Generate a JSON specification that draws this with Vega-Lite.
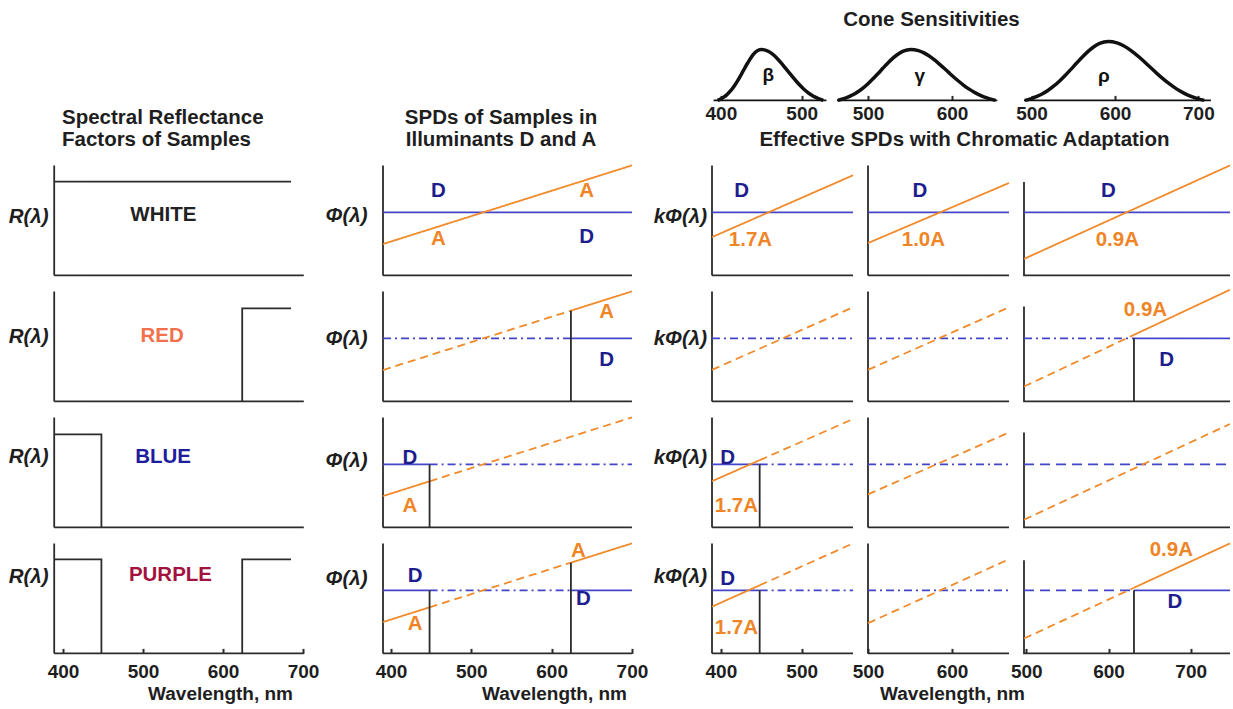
{
"$schema": "https://vega.github.io/schema/vega-lite/v6.json",
"background": "white",
"padding": {"left": 8, "top": 9.4, "right": 3, "bottom": 4},
"columns": 5,
"spacing": {"row": 16, "column": 15},
"align": "each",
"bounds": "flush",
"center": false,
"datasets": {
"L": [
{"p":"a1","g":"ax","s":"k","x":389,"y":1},{"p":"a1","g":"ax","s":"k","x":389,"y":0},{"p":"a1","g":"ax","s":"k","x":701,"y":0},
{"p":"a1","g":"r","s":"k","x":389,"y":0.852},{"p":"a1","g":"r","s":"k","x":685,"y":0.852},
{"p":"a2","g":"ax","s":"k","x":389,"y":1},{"p":"a2","g":"ax","s":"k","x":389,"y":0},{"p":"a2","g":"ax","s":"k","x":701,"y":0},
{"p":"a2","g":"r","s":"k","x":624,"y":0},{"p":"a2","g":"r","s":"k","x":624,"y":0.845},{"p":"a2","g":"r","s":"k","x":685,"y":0.845},
{"p":"a3","g":"ax","s":"k","x":389,"y":1},{"p":"a3","g":"ax","s":"k","x":389,"y":0},{"p":"a3","g":"ax","s":"k","x":701,"y":0},
{"p":"a3","g":"r","s":"k","x":389,"y":0.845},{"p":"a3","g":"r","s":"k","x":448,"y":0.845},{"p":"a3","g":"r","s":"k","x":448,"y":0},
{"p":"a4","g":"ax","s":"k","x":389,"y":1},{"p":"a4","g":"ax","s":"k","x":389,"y":0},{"p":"a4","g":"ax","s":"k","x":701,"y":0},
{"p":"a4","g":"r","s":"k","x":389,"y":0.855},{"p":"a4","g":"r","s":"k","x":448,"y":0.855},{"p":"a4","g":"r","s":"k","x":448,"y":0},
{"p":"a4","g":"r2","s":"k","x":624,"y":0},{"p":"a4","g":"r2","s":"k","x":624,"y":0.855},{"p":"a4","g":"r2","s":"k","x":685,"y":0.855},

{"p":"b1","g":"ax","s":"k","x":390,"y":1},{"p":"b1","g":"ax","s":"k","x":390,"y":0},{"p":"b1","g":"ax","s":"k","x":700,"y":0},
{"p":"b1","g":"D1","s":"D","x":390,"y":0.573},{"p":"b1","g":"D1","s":"D","x":700,"y":0.573},
{"p":"b1","g":"A1","s":"A","x":390,"y":0.285},{"p":"b1","g":"A1","s":"A","x":700,"y":1},
{"p":"b2","g":"ax","s":"k","x":390,"y":1},{"p":"b2","g":"ax","s":"k","x":390,"y":0},{"p":"b2","g":"ax","s":"k","x":700,"y":0},
{"p":"b2","g":"D1","s":"D","part":"out","x":390,"y":0.573},{"p":"b2","g":"D1","s":"D","part":"out","x":624,"y":0.573},
{"p":"b2","g":"D2","s":"D","x":624,"y":0.573},{"p":"b2","g":"D2","s":"D","x":700,"y":0.573},
{"p":"b2","g":"A1","s":"A","part":"out","x":390,"y":0.285},{"p":"b2","g":"A1","s":"A","part":"out","x":624,"y":0.825},
{"p":"b2","g":"A2","s":"A","x":624,"y":0.825},{"p":"b2","g":"A2","s":"A","x":700,"y":1},
{"p":"b2","g":"r","s":"k","x":624,"y":0},{"p":"b2","g":"r","s":"k","x":624,"y":0.825},
{"p":"b3","g":"ax","s":"k","x":390,"y":1},{"p":"b3","g":"ax","s":"k","x":390,"y":0},{"p":"b3","g":"ax","s":"k","x":700,"y":0},
{"p":"b3","g":"D1","s":"D","x":390,"y":0.573},{"p":"b3","g":"D1","s":"D","x":448,"y":0.573},
{"p":"b3","g":"D2","s":"D","part":"out","x":448,"y":0.573},{"p":"b3","g":"D2","s":"D","part":"out","x":700,"y":0.573},
{"p":"b3","g":"A1","s":"A","x":390,"y":0.285},{"p":"b3","g":"A1","s":"A","x":448,"y":0.419},
{"p":"b3","g":"A2","s":"A","part":"out","x":448,"y":0.419},{"p":"b3","g":"A2","s":"A","part":"out","x":700,"y":1},
{"p":"b3","g":"r","s":"k","x":448,"y":0},{"p":"b3","g":"r","s":"k","x":448,"y":0.573},
{"p":"b4","g":"ax","s":"k","x":390,"y":1},{"p":"b4","g":"ax","s":"k","x":390,"y":0},{"p":"b4","g":"ax","s":"k","x":700,"y":0},
{"p":"b4","g":"D1","s":"D","x":390,"y":0.573},{"p":"b4","g":"D1","s":"D","x":448,"y":0.573},
{"p":"b4","g":"D2","s":"D","part":"out","x":448,"y":0.573},{"p":"b4","g":"D2","s":"D","part":"out","x":624,"y":0.573},
{"p":"b4","g":"D3","s":"D","x":624,"y":0.573},{"p":"b4","g":"D3","s":"D","x":700,"y":0.573},
{"p":"b4","g":"A1","s":"A","x":390,"y":0.285},{"p":"b4","g":"A1","s":"A","x":448,"y":0.419},
{"p":"b4","g":"A2","s":"A","part":"out","x":448,"y":0.419},{"p":"b4","g":"A2","s":"A","part":"out","x":624,"y":0.825},
{"p":"b4","g":"A3","s":"A","x":624,"y":0.825},{"p":"b4","g":"A3","s":"A","x":700,"y":1},
{"p":"b4","g":"r","s":"k","x":448,"y":0},{"p":"b4","g":"r","s":"k","x":448,"y":0.573},
{"p":"b4","g":"r2","s":"k","x":624,"y":0},{"p":"b4","g":"r2","s":"k","x":624,"y":0.825},

{"p":"c1","g":"ax","s":"k","x":389,"y":1},{"p":"c1","g":"ax","s":"k","x":389,"y":0},{"p":"c1","g":"ax","s":"k","x":563.5,"y":0},
{"p":"c1","g":"D1","s":"D","x":389,"y":0.573},{"p":"c1","g":"D1","s":"D","x":563.5,"y":0.573},
{"p":"c1","g":"A1","s":"A","x":389,"y":0.348},{"p":"c1","g":"A1","s":"A","x":563.5,"y":0.91},
{"p":"c2","g":"ax","s":"k","x":389,"y":1},{"p":"c2","g":"ax","s":"k","x":389,"y":0},{"p":"c2","g":"ax","s":"k","x":563.5,"y":0},
{"p":"c2","g":"D1","s":"D","part":"out","x":389,"y":0.573},{"p":"c2","g":"D1","s":"D","part":"out","x":563.5,"y":0.573},
{"p":"c2","g":"A1","s":"A","part":"out","x":389,"y":0.287},{"p":"c2","g":"A1","s":"A","part":"out","x":563.5,"y":0.856},
{"p":"c3","g":"ax","s":"k","x":389,"y":1},{"p":"c3","g":"ax","s":"k","x":389,"y":0},{"p":"c3","g":"ax","s":"k","x":563.5,"y":0},
{"p":"c3","g":"D1","s":"D","x":389,"y":0.573},{"p":"c3","g":"D1","s":"D","x":448,"y":0.573},
{"p":"c3","g":"D2","s":"D","part":"out","x":448,"y":0.573},{"p":"c3","g":"D2","s":"D","part":"out","x":563.5,"y":0.573},
{"p":"c3","g":"A1","s":"A","x":389,"y":0.42},{"p":"c3","g":"A1","s":"A","x":448,"y":0.611},
{"p":"c3","g":"A2","s":"A","part":"out","x":448,"y":0.611},{"p":"c3","g":"A2","s":"A","part":"out","x":563.5,"y":0.985},
{"p":"c3","g":"r","s":"k","x":448,"y":0},{"p":"c3","g":"r","s":"k","x":448,"y":0.573},
{"p":"c4","g":"ax","s":"k","x":389,"y":1},{"p":"c4","g":"ax","s":"k","x":389,"y":0},{"p":"c4","g":"ax","s":"k","x":563.5,"y":0},
{"p":"c4","g":"D1","s":"D","x":389,"y":0.573},{"p":"c4","g":"D1","s":"D","x":448,"y":0.573},
{"p":"c4","g":"D2","s":"D","part":"out","x":448,"y":0.573},{"p":"c4","g":"D2","s":"D","part":"out","x":563.5,"y":0.573},
{"p":"c4","g":"A1","s":"A","x":389,"y":0.425},{"p":"c4","g":"A1","s":"A","x":448,"y":0.619},
{"p":"c4","g":"A2","s":"A","part":"out","x":448,"y":0.619},{"p":"c4","g":"A2","s":"A","part":"out","x":563.5,"y":1},
{"p":"c4","g":"r","s":"k","x":448,"y":0},{"p":"c4","g":"r","s":"k","x":448,"y":0.573},

{"p":"d1","g":"ax","s":"k","x":500,"y":1},{"p":"d1","g":"ax","s":"k","x":500,"y":0},{"p":"d1","g":"ax","s":"k","x":667.9,"y":0},
{"p":"d1","g":"D1","s":"D","x":500,"y":0.573},{"p":"d1","g":"D1","s":"D","x":667.9,"y":0.573},
{"p":"d1","g":"A1","s":"A","x":500,"y":0.294},{"p":"d1","g":"A1","s":"A","x":667.9,"y":0.84},
{"p":"d2","g":"ax","s":"k","x":500,"y":1},{"p":"d2","g":"ax","s":"k","x":500,"y":0},{"p":"d2","g":"ax","s":"k","x":667.9,"y":0},
{"p":"d2","g":"D1","s":"D","part":"out","x":500,"y":0.573},{"p":"d2","g":"D1","s":"D","part":"out","x":667.9,"y":0.573},
{"p":"d2","g":"A1","s":"A","part":"out","x":500,"y":0.287},{"p":"d2","g":"A1","s":"A","part":"out","x":667.9,"y":0.856},
{"p":"d3","g":"ax","s":"k","x":500,"y":1},{"p":"d3","g":"ax","s":"k","x":500,"y":0},{"p":"d3","g":"ax","s":"k","x":667.9,"y":0},
{"p":"d3","g":"D1","s":"D","part":"out","x":500,"y":0.573},{"p":"d3","g":"D1","s":"D","part":"out","x":667.9,"y":0.573},
{"p":"d3","g":"A1","s":"A","part":"out","x":500,"y":0.3},{"p":"d3","g":"A1","s":"A","part":"out","x":667.9,"y":0.863},
{"p":"d4","g":"ax","s":"k","x":500,"y":1},{"p":"d4","g":"ax","s":"k","x":500,"y":0},{"p":"d4","g":"ax","s":"k","x":667.9,"y":0},
{"p":"d4","g":"D1","s":"D","part":"out","x":500,"y":0.573},{"p":"d4","g":"D1","s":"D","part":"out","x":667.9,"y":0.573},
{"p":"d4","g":"A1","s":"A","part":"out","x":500,"y":0.275},{"p":"d4","g":"A1","s":"A","part":"out","x":667.9,"y":0.856},

{"p":"e1","g":"ax","s":"k","x":497.2,"y":0.85},{"p":"e1","g":"ax","s":"k","x":497.2,"y":0},{"p":"e1","g":"ax","s":"k","x":747.8,"y":0},
{"p":"e1","g":"D1","s":"D","x":497.2,"y":0.573},{"p":"e1","g":"D1","s":"D","x":747.8,"y":0.573},
{"p":"e1","g":"A1","s":"A","x":497.2,"y":0.15},{"p":"e1","g":"A1","s":"A","x":747.8,"y":1},
{"p":"e2","g":"ax","s":"k","x":497.2,"y":0.862},{"p":"e2","g":"ax","s":"k","x":497.2,"y":0},{"p":"e2","g":"ax","s":"k","x":747.8,"y":0},
{"p":"e2","g":"D1","s":"D","part":"out","x":497.2,"y":0.573},{"p":"e2","g":"D1","s":"D","part":"out","x":631,"y":0.573},
{"p":"e2","g":"D2","s":"D","x":631,"y":0.573},{"p":"e2","g":"D2","s":"D","x":747.8,"y":0.573},
{"p":"e2","g":"A1","s":"A","part":"out","x":497.2,"y":0.135},{"p":"e2","g":"A1","s":"A","part":"out","x":631,"y":0.605},
{"p":"e2","g":"A2","s":"A","x":631,"y":0.605},{"p":"e2","g":"A2","s":"A","x":747.8,"y":1.015},
{"p":"e2","g":"r","s":"k","x":631,"y":0},{"p":"e2","g":"r","s":"k","x":631,"y":0.573},
{"p":"e3","g":"ax","s":"k","x":497.2,"y":0.863},{"p":"e3","g":"ax","s":"k","x":497.2,"y":0},{"p":"e3","g":"ax","s":"k","x":747.8,"y":0},
{"p":"e3","g":"D1","s":"D","part":"out","x":497.2,"y":0.573},{"p":"e3","g":"D1","s":"D","part":"out","x":747.8,"y":0.573},
{"p":"e3","g":"A1","s":"A","part":"out","x":497.2,"y":0.07},{"p":"e3","g":"A1","s":"A","part":"out","x":747.8,"y":0.94},
{"p":"e4","g":"ax","s":"k","x":497.2,"y":0.847},{"p":"e4","g":"ax","s":"k","x":497.2,"y":0},{"p":"e4","g":"ax","s":"k","x":747.8,"y":0},
{"p":"e4","g":"D1","s":"D","part":"out","x":497.2,"y":0.573},{"p":"e4","g":"D1","s":"D","part":"out","x":631,"y":0.573},
{"p":"e4","g":"D2","s":"D","x":631,"y":0.573},{"p":"e4","g":"D2","s":"D","x":747.8,"y":0.573},
{"p":"e4","g":"A1","s":"A","part":"out","x":497.2,"y":0.135},{"p":"e4","g":"A1","s":"A","part":"out","x":631,"y":0.597},
{"p":"e4","g":"A2","s":"A","x":631,"y":0.597},{"p":"e4","g":"A2","s":"A","x":747.8,"y":1},
{"p":"e4","g":"r","s":"k","x":631,"y":0},{"p":"e4","g":"r","s":"k","x":631,"y":0.573}
],
"T": [
{"p":"a1","t":"WHITE","c":"W","x":525.4,"y":0.548},
{"p":"a2","t":"RED","c":"R","x":523.8,"y":0.59},
{"p":"a3","t":"BLUE","c":"B","x":525,"y":0.636},
{"p":"a4","t":"PURPLE","c":"P","x":534.3,"y":0.71},
{"p":"b1","t":"D","c":"D","x":458.9,"y":0.77},{"p":"b1","t":"A","c":"A","x":643.7,"y":0.77},
{"p":"b1","t":"A","c":"A","x":458.9,"y":0.33},{"p":"b1","t":"D","c":"D","x":643.7,"y":0.345},
{"p":"b2","t":"A","c":"A","x":668.6,"y":0.815},{"p":"b2","t":"D","c":"D","x":668.6,"y":0.38},
{"p":"b3","t":"D","c":"D","x":423.6,"y":0.634},{"p":"b3","t":"A","c":"A","x":423.6,"y":0.194},
{"p":"b4","t":"D","c":"D","x":430,"y":0.706},{"p":"b4","t":"A","c":"A","x":430,"y":0.266},
{"p":"b4","t":"A","c":"A","x":633.2,"y":0.934},{"p":"b4","t":"D","c":"D","x":639.5,"y":0.494},
{"p":"c1","t":"D","c":"D","x":425.8,"y":0.766},{"p":"c1","t":"1.7A","c":"A","x":436.6,"y":0.318},
{"p":"c3","t":"D","c":"D","x":408.3,"y":0.634},{"p":"c3","t":"1.7A","c":"A","x":419.2,"y":0.192},
{"p":"c4","t":"D","c":"D","x":408.3,"y":0.68},{"p":"c4","t":"1.7A","c":"A","x":419.2,"y":0.235},
{"p":"d1","t":"D","c":"D","x":561.7,"y":0.766},{"p":"d1","t":"1.0A","c":"A","x":566,"y":0.318},
{"p":"e1","t":"D","c":"D","x":600,"y":0.766},{"p":"e1","t":"0.9A","c":"A","x":610.7,"y":0.318},
{"p":"e2","t":"0.9A","c":"A","x":645,"y":0.83},{"p":"e2","t":"D","c":"D","x":670.8,"y":0.38},
{"p":"e4","t":"0.9A","c":"A","x":676.4,"y":0.94},{"p":"e4","t":"D","c":"D","x":680.7,"y":0.465},
{"p":"hC","t":"β","c":"G","x":458.6,"y":0.5},
{"p":"hD","t":"γ","c":"G","x":561.7,"y":0.47},
{"p":"hE","t":"ρ","c":"G","x":586.6,"y":0.47}
],
"C": [
{"p":"hC","g":"b","x":391,"y":0},{"p":"hC","g":"b","x":530.6,"y":0},
{"p":"hC","g":"c","x":396,"y":0},{"p":"hC","g":"c","x":399.8,"y":0.027},{"p":"hC","g":"c","x":403.5,"y":0.063},{"p":"hC","g":"c","x":407.2,"y":0.109},
{"p":"hC","g":"c","x":410.9,"y":0.169},{"p":"hC","g":"c","x":414.7,"y":0.241},{"p":"hC","g":"c","x":418.4,"y":0.326},{"p":"hC","g":"c","x":422.1,"y":0.423},
{"p":"hC","g":"c","x":425.8,"y":0.526},{"p":"hC","g":"c","x":429.5,"y":0.634},{"p":"hC","g":"c","x":433.3,"y":0.738},{"p":"hC","g":"c","x":437,"y":0.833},
{"p":"hC","g":"c","x":440.7,"y":0.911},{"p":"hC","g":"c","x":444.4,"y":0.967},{"p":"hC","g":"c","x":450,"y":1},{"p":"hC","g":"c","x":456.8,"y":0.977},
{"p":"hC","g":"c","x":461.4,"y":0.937},{"p":"hC","g":"c","x":466,"y":0.879},{"p":"hC","g":"c","x":470.5,"y":0.808},{"p":"hC","g":"c","x":475.1,"y":0.727},
{"p":"hC","g":"c","x":479.6,"y":0.639},{"p":"hC","g":"c","x":484.2,"y":0.549},{"p":"hC","g":"c","x":488.8,"y":0.459},{"p":"hC","g":"c","x":493.3,"y":0.375},
{"p":"hC","g":"c","x":497.9,"y":0.296},{"p":"hC","g":"c","x":502.4,"y":0.225},{"p":"hC","g":"c","x":507,"y":0.164},{"p":"hC","g":"c","x":511.6,"y":0.112},
{"p":"hC","g":"c","x":516.1,"y":0.069},{"p":"hC","g":"c","x":520.7,"y":0.035},{"p":"hC","g":"c","x":526.8,"y":0},
{"p":"hD","g":"b","x":463,"y":0},{"p":"hD","g":"b","x":654,"y":0},
{"p":"hD","g":"c","x":464,"y":0},{"p":"hD","g":"c","x":470,"y":0.027},{"p":"hD","g":"c","x":476,"y":0.063},{"p":"hD","g":"c","x":482,"y":0.109},
{"p":"hD","g":"c","x":488,"y":0.169},{"p":"hD","g":"c","x":494,"y":0.241},{"p":"hD","g":"c","x":500,"y":0.326},{"p":"hD","g":"c","x":506,"y":0.423},
{"p":"hD","g":"c","x":512,"y":0.526},{"p":"hD","g":"c","x":518,"y":0.634},{"p":"hD","g":"c","x":524,"y":0.738},{"p":"hD","g":"c","x":530,"y":0.833},
{"p":"hD","g":"c","x":536,"y":0.911},{"p":"hD","g":"c","x":542,"y":0.967},{"p":"hD","g":"c","x":551,"y":1},{"p":"hD","g":"c","x":560,"y":0.977},
{"p":"hD","g":"c","x":566,"y":0.937},{"p":"hD","g":"c","x":572,"y":0.879},{"p":"hD","g":"c","x":578,"y":0.808},{"p":"hD","g":"c","x":584,"y":0.727},
{"p":"hD","g":"c","x":590,"y":0.639},{"p":"hD","g":"c","x":596,"y":0.549},{"p":"hD","g":"c","x":602,"y":0.459},{"p":"hD","g":"c","x":608,"y":0.375},
{"p":"hD","g":"c","x":614,"y":0.296},{"p":"hD","g":"c","x":620,"y":0.225},{"p":"hD","g":"c","x":626,"y":0.164},{"p":"hD","g":"c","x":632,"y":0.112},
{"p":"hD","g":"c","x":638,"y":0.069},{"p":"hD","g":"c","x":644,"y":0.035},{"p":"hD","g":"c","x":652,"y":0},
{"p":"hE","g":"b","x":490.9,"y":0},{"p":"hE","g":"b","x":715,"y":0},
{"p":"hE","g":"c","x":492,"y":0},{"p":"hE","g":"c","x":498.8,"y":0.031},{"p":"hE","g":"c","x":505.7,"y":0.073},{"p":"hE","g":"c","x":512.6,"y":0.126},
{"p":"hE","g":"c","x":519.5,"y":0.195},{"p":"hE","g":"c","x":526.4,"y":0.278},{"p":"hE","g":"c","x":533.3,"y":0.377},{"p":"hE","g":"c","x":540.2,"y":0.489},
{"p":"hE","g":"c","x":547.1,"y":0.608},{"p":"hE","g":"c","x":554,"y":0.732},{"p":"hE","g":"c","x":560.9,"y":0.852},{"p":"hE","g":"c","x":567.8,"y":0.962},
{"p":"hE","g":"c","x":574.7,"y":1.052},{"p":"hE","g":"c","x":581.6,"y":1.117},{"p":"hE","g":"c","x":592,"y":1.155},{"p":"hE","g":"c","x":602.3,"y":1.128},
{"p":"hE","g":"c","x":609.1,"y":1.082},{"p":"hE","g":"c","x":615.9,"y":1.015},{"p":"hE","g":"c","x":622.8,"y":0.933},{"p":"hE","g":"c","x":629.6,"y":0.84},
{"p":"hE","g":"c","x":636.5,"y":0.738},{"p":"hE","g":"c","x":643.3,"y":0.634},{"p":"hE","g":"c","x":650.1,"y":0.53},{"p":"hE","g":"c","x":657,"y":0.433},
{"p":"hE","g":"c","x":663.8,"y":0.342},{"p":"hE","g":"c","x":670.7,"y":0.26},{"p":"hE","g":"c","x":677.5,"y":0.189},{"p":"hE","g":"c","x":684.3,"y":0.129},
{"p":"hE","g":"c","x":691.2,"y":0.08},{"p":"hE","g":"c","x":698,"y":0.04},{"p":"hE","g":"c","x":707.1,"y":0}
]
},
"config": {
"font": "Liberation Sans",
"view": {"stroke": null},
"axis": {"domain": false, "grid": false, "ticks": false, "labels": false,
 "labelFont": "Liberation Sans", "labelFontSize": 19, "labelFontWeight": "bold", "labelColor": "#1e1e1e",
 "labelFlush": false, "labelOverlap": false, "labelPadding": 14,
 "tickSize": -5, "tickWidth": 2, "tickColor": "#2b2b2b",
 "titleFont": "Liberation Sans", "titleFontSize": 19, "titleFontWeight": "bold", "titleColor": "#1e1e1e", "titlePadding": 3},
"axisY": {"titleAngle": 0, "titleAlign": "right", "titleBaseline": "middle", "titleFontStyle": "italic", "titleFontSize": 20.5},
"title": {"font": "Liberation Sans", "fontSize": 20.5, "fontWeight": "bold", "color": "#1e1e1e", "frame": "group", "offset": 11, "lineHeight": 22.6},
"text": {"font": "Liberation Sans", "fontSize": 20.5, "fontWeight": "bold", "align": "center", "baseline": "middle"}
},
"concat": [
{"width": 314, "height": 110, "data": {"values": []}, "mark": "point"},
{"width": 314, "height": 110, "data": {"values": []}, "mark": "point"},
{"width": 141, "height": 110,
 "encoding": {"x": {"field": "x", "type": "quantitative", "scale": {"domain": [389, 563.5], "nice": false, "zero": false}, "axis": {"values": [400, 500], "labels": true, "ticks": true, "offset": -49, "labelPadding": 9, "title": null}},
  "y": {"field": "y", "type": "quantitative", "scale": {"domain": [-0.961, 1.196], "nice": false, "zero": false}, "axis": null}},
 "layer": [
  {"data": {"name": "C"}, "transform": [{"filter": "datum.p=='hC' && datum.g=='b'"}], "mark": {"type": "line", "color": "#111111", "strokeWidth": 1.8}, "encoding": {"order": {"value": null}}},
  {"data": {"name": "C"}, "transform": [{"filter": "datum.p=='hC' && datum.g=='c'"}], "mark": {"type": "line", "color": "#111111", "strokeWidth": 3.5, "interpolate": "monotone"}, "encoding": {"order": {"value": null}}},
  {"data": {"name": "T"}, "transform": [{"filter": "datum.p=='hC'"}], "mark": {"type": "text", "color": "#111111", "fontSize": 19}, "encoding": {"text": {"field": "t"}}}
 ]},
{"width": 141, "height": 110,
 "title": {"text": "Cone Sensitivities", "anchor": "middle", "dx": -7, "offset": 8.6},
 "encoding": {"x": {"field": "x", "type": "quantitative", "scale": {"domain": [500, 667.9], "nice": false, "zero": false}, "axis": {"values": [500, 600], "labels": true, "ticks": true, "offset": -49, "labelPadding": 9, "title": null}},
  "y": {"field": "y", "type": "quantitative", "scale": {"domain": [-0.961, 1.196], "nice": false, "zero": false}, "axis": null}},
 "layer": [
  {"data": {"name": "C"}, "transform": [{"filter": "datum.p=='hD' && datum.g=='b'"}], "mark": {"type": "line", "color": "#111111", "strokeWidth": 1.8}, "encoding": {"order": {"value": null}}},
  {"data": {"name": "C"}, "transform": [{"filter": "datum.p=='hD' && datum.g=='c'"}], "mark": {"type": "line", "color": "#111111", "strokeWidth": 3.5, "interpolate": "monotone"}, "encoding": {"order": {"value": null}}},
  {"data": {"name": "T"}, "transform": [{"filter": "datum.p=='hD'"}], "mark": {"type": "text", "color": "#111111", "fontSize": 19}, "encoding": {"text": {"field": "t"}}}
 ]},
{"width": 206, "height": 110,
 "encoding": {"x": {"field": "x", "type": "quantitative", "scale": {"domain": [490.9, 737.9], "nice": false, "zero": false}, "axis": {"values": [500, 600, 700], "labels": true, "ticks": true, "offset": -49, "labelPadding": 9, "title": null}},
  "y": {"field": "y", "type": "quantitative", "scale": {"domain": [-0.961, 1.196], "nice": false, "zero": false}, "axis": null}},
 "layer": [
  {"data": {"name": "C"}, "transform": [{"filter": "datum.p=='hE' && datum.g=='b'"}], "mark": {"type": "line", "color": "#111111", "strokeWidth": 1.8}, "encoding": {"order": {"value": null}}},
  {"data": {"name": "C"}, "transform": [{"filter": "datum.p=='hE' && datum.g=='c'"}], "mark": {"type": "line", "color": "#111111", "strokeWidth": 3.5, "interpolate": "monotone"}, "encoding": {"order": {"value": null}}},
  {"data": {"name": "T"}, "transform": [{"filter": "datum.p=='hE'"}], "mark": {"type": "text", "color": "#111111", "fontSize": 19}, "encoding": {"text": {"field": "t"}}}
 ]},

{"width": 314, "height": 110,
 "title": {"text": ["Spectral Reflectance", "Factors of Samples"], "anchor": "start", "dx": 8},
 "encoding": {"x": {"field": "x", "type": "quantitative", "scale": {"domain": [388.75, 781.25], "nice": false, "zero": false}, "axis": null},
  "y": {"field": "y", "type": "quantitative", "scale": {"domain": [0, 1], "nice": false, "zero": false}, "axis": {"title": "R(λ)", "titleX": -6, "titleY": 50.7}}},
 "layer": [
  {"data": {"name": "L"}, "transform": [{"filter": "datum.p=='a1'"}], "mark": {"type": "line", "strokeWidth": 1.8}, "encoding": {"detail": {"field": "g"}, "stroke": {"field": "s", "type": "nominal", "scale": {"domain": ["k", "D", "A"], "range": ["#2b2b2b", "#4444c8", "#f08a2a"]}, "legend": null}, "strokeDash": {"condition": [{"test": "datum.s=='D' && datum.part=='out'", "value": [8, 4, 2, 4]}, {"test": "datum.part=='out'", "value": [8, 5]}], "value": [1, 0]}, "order": {"value": null}}},
  {"data": {"name": "T"}, "transform": [{"filter": "datum.p=='a1'"}], "mark": "text", "encoding": {"text": {"field": "t"}, "fill": {"field": "c", "type": "nominal", "scale": {"domain": ["D", "A", "W", "R", "B", "P", "G"], "range": ["#1d1d8e", "#ef8526", "#222222", "#f2714d", "#1d1d9e", "#a3123f", "#111111"]}, "legend": null}}}
 ]},
{"width": 314, "height": 110,
 "title": {"text": ["SPDs of Samples in", "Illuminants D and A"], "anchor": "middle", "dx": -39},
 "encoding": {"x": {"field": "x", "type": "quantitative", "scale": {"domain": [390, 781], "nice": false, "zero": false}, "axis": null},
  "y": {"field": "y", "type": "quantitative", "scale": {"domain": [0, 1], "nice": false, "zero": false}, "axis": {"title": "Φ(λ)", "titleX": -16, "titleY": 50}}},
 "layer": [
  {"data": {"name": "L"}, "transform": [{"filter": "datum.p=='b1'"}], "mark": {"type": "line", "strokeWidth": 1.8}, "encoding": {"detail": {"field": "g"}, "stroke": {"field": "s", "type": "nominal", "scale": {"domain": ["k", "D", "A"], "range": ["#2b2b2b", "#4444c8", "#f08a2a"]}, "legend": null}, "strokeDash": {"condition": [{"test": "datum.s=='D' && datum.part=='out'", "value": [8, 4, 2, 4]}, {"test": "datum.part=='out'", "value": [8, 5]}], "value": [1, 0]}, "order": {"value": null}}},
  {"data": {"name": "T"}, "transform": [{"filter": "datum.p=='b1'"}], "mark": "text", "encoding": {"text": {"field": "t"}, "fill": {"field": "c", "type": "nominal", "scale": {"domain": ["D", "A", "W", "R", "B", "P", "G"], "range": ["#1d1d8e", "#ef8526", "#222222", "#f2714d", "#1d1d9e", "#a3123f", "#111111"]}, "legend": null}}}
 ]},
{"width": 141, "height": 110,
 "encoding": {"x": {"field": "x", "type": "quantitative", "scale": {"domain": [389, 563.5], "nice": false, "zero": false}, "axis": null},
  "y": {"field": "y", "type": "quantitative", "scale": {"domain": [0, 1], "nice": false, "zero": false}, "axis": {"title": "kΦ(λ)", "titleX": -5.5, "titleY": 51}}},
 "layer": [
  {"data": {"name": "L"}, "transform": [{"filter": "datum.p=='c1'"}], "mark": {"type": "line", "strokeWidth": 1.8}, "encoding": {"detail": {"field": "g"}, "stroke": {"field": "s", "type": "nominal", "scale": {"domain": ["k", "D", "A"], "range": ["#2b2b2b", "#4444c8", "#f08a2a"]}, "legend": null}, "strokeDash": {"condition": [{"test": "datum.s=='D' && datum.part=='out'", "value": [8, 4, 2, 4]}, {"test": "datum.part=='out'", "value": [8, 5]}], "value": [1, 0]}, "order": {"value": null}}},
  {"data": {"name": "T"}, "transform": [{"filter": "datum.p=='c1'"}], "mark": "text", "encoding": {"text": {"field": "t"}, "fill": {"field": "c", "type": "nominal", "scale": {"domain": ["D", "A", "W", "R", "B", "P", "G"], "range": ["#1d1d8e", "#ef8526", "#222222", "#f2714d", "#1d1d9e", "#a3123f", "#111111"]}, "legend": null}}}
 ]},
{"width": 141, "height": 110,
 "title": {"text": "Effective SPDs with Chromatic Adaptation", "anchor": "middle", "dx": 26},
 "encoding": {"x": {"field": "x", "type": "quantitative", "scale": {"domain": [500, 667.9], "nice": false, "zero": false}, "axis": null},
  "y": {"field": "y", "type": "quantitative", "scale": {"domain": [0, 1], "nice": false, "zero": false}, "axis": null}},
 "layer": [
  {"data": {"name": "L"}, "transform": [{"filter": "datum.p=='d1'"}], "mark": {"type": "line", "strokeWidth": 1.8}, "encoding": {"detail": {"field": "g"}, "stroke": {"field": "s", "type": "nominal", "scale": {"domain": ["k", "D", "A"], "range": ["#2b2b2b", "#4444c8", "#f08a2a"]}, "legend": null}, "strokeDash": {"condition": [{"test": "datum.s=='D' && datum.part=='out'", "value": [8, 4, 2, 4]}, {"test": "datum.part=='out'", "value": [8, 5]}], "value": [1, 0]}, "order": {"value": null}}},
  {"data": {"name": "T"}, "transform": [{"filter": "datum.p=='d1'"}], "mark": "text", "encoding": {"text": {"field": "t"}, "fill": {"field": "c", "type": "nominal", "scale": {"domain": ["D", "A", "W", "R", "B", "P", "G"], "range": ["#1d1d8e", "#ef8526", "#222222", "#f2714d", "#1d1d9e", "#a3123f", "#111111"]}, "legend": null}}}
 ]},
{"width": 206, "height": 110,
 "encoding": {"x": {"field": "x", "type": "quantitative", "scale": {"domain": [497.2, 747.8], "nice": false, "zero": false}, "axis": null},
  "y": {"field": "y", "type": "quantitative", "scale": {"domain": [0, 1], "nice": false, "zero": false}, "axis": null}},
 "layer": [
  {"data": {"name": "L"}, "transform": [{"filter": "datum.p=='e1'"}], "mark": {"type": "line", "strokeWidth": 1.8}, "encoding": {"detail": {"field": "g"}, "stroke": {"field": "s", "type": "nominal", "scale": {"domain": ["k", "D", "A"], "range": ["#2b2b2b", "#4444c8", "#f08a2a"]}, "legend": null}, "strokeDash": {"condition": [{"test": "datum.s=='D' && datum.part=='out'", "value": [8, 4, 2, 4]}, {"test": "datum.part=='out'", "value": [8, 5]}], "value": [1, 0]}, "order": {"value": null}}},
  {"data": {"name": "T"}, "transform": [{"filter": "datum.p=='e1'"}], "mark": "text", "encoding": {"text": {"field": "t"}, "fill": {"field": "c", "type": "nominal", "scale": {"domain": ["D", "A", "W", "R", "B", "P", "G"], "range": ["#1d1d8e", "#ef8526", "#222222", "#f2714d", "#1d1d9e", "#a3123f", "#111111"]}, "legend": null}}}
 ]},

{"width": 314, "height": 110,
 "encoding": {"x": {"field": "x", "type": "quantitative", "scale": {"domain": [388.75, 781.25], "nice": false, "zero": false}, "axis": null},
  "y": {"field": "y", "type": "quantitative", "scale": {"domain": [0, 1], "nice": false, "zero": false}, "axis": {"title": "R(λ)", "titleX": -6, "titleY": 45}}},
 "layer": [
  {"data": {"name": "L"}, "transform": [{"filter": "datum.p=='a2'"}], "mark": {"type": "line", "strokeWidth": 1.8}, "encoding": {"detail": {"field": "g"}, "stroke": {"field": "s", "type": "nominal", "scale": {"domain": ["k", "D", "A"], "range": ["#2b2b2b", "#4444c8", "#f08a2a"]}, "legend": null}, "strokeDash": {"condition": [{"test": "datum.s=='D' && datum.part=='out'", "value": [8, 4, 2, 4]}, {"test": "datum.part=='out'", "value": [8, 5]}], "value": [1, 0]}, "order": {"value": null}}},
  {"data": {"name": "T"}, "transform": [{"filter": "datum.p=='a2'"}], "mark": "text", "encoding": {"text": {"field": "t"}, "fill": {"field": "c", "type": "nominal", "scale": {"domain": ["D", "A", "W", "R", "B", "P", "G"], "range": ["#1d1d8e", "#ef8526", "#222222", "#f2714d", "#1d1d9e", "#a3123f", "#111111"]}, "legend": null}}}
 ]},
{"width": 314, "height": 110,
 "encoding": {"x": {"field": "x", "type": "quantitative", "scale": {"domain": [390, 781], "nice": false, "zero": false}, "axis": null},
  "y": {"field": "y", "type": "quantitative", "scale": {"domain": [0, 1], "nice": false, "zero": false}, "axis": {"title": "Φ(λ)", "titleX": -16, "titleY": 47}}},
 "layer": [
  {"data": {"name": "L"}, "transform": [{"filter": "datum.p=='b2'"}], "mark": {"type": "line", "strokeWidth": 1.8}, "encoding": {"detail": {"field": "g"}, "stroke": {"field": "s", "type": "nominal", "scale": {"domain": ["k", "D", "A"], "range": ["#2b2b2b", "#4444c8", "#f08a2a"]}, "legend": null}, "strokeDash": {"condition": [{"test": "datum.s=='D' && datum.part=='out'", "value": [8, 4, 2, 4]}, {"test": "datum.part=='out'", "value": [8, 5]}], "value": [1, 0]}, "order": {"value": null}}},
  {"data": {"name": "T"}, "transform": [{"filter": "datum.p=='b2'"}], "mark": "text", "encoding": {"text": {"field": "t"}, "fill": {"field": "c", "type": "nominal", "scale": {"domain": ["D", "A", "W", "R", "B", "P", "G"], "range": ["#1d1d8e", "#ef8526", "#222222", "#f2714d", "#1d1d9e", "#a3123f", "#111111"]}, "legend": null}}}
 ]},
{"width": 141, "height": 110,
 "encoding": {"x": {"field": "x", "type": "quantitative", "scale": {"domain": [389, 563.5], "nice": false, "zero": false}, "axis": null},
  "y": {"field": "y", "type": "quantitative", "scale": {"domain": [0, 1], "nice": false, "zero": false}, "axis": {"title": "kΦ(λ)", "titleX": -5.5, "titleY": 47}}},
 "layer": [
  {"data": {"name": "L"}, "transform": [{"filter": "datum.p=='c2'"}], "mark": {"type": "line", "strokeWidth": 1.8}, "encoding": {"detail": {"field": "g"}, "stroke": {"field": "s", "type": "nominal", "scale": {"domain": ["k", "D", "A"], "range": ["#2b2b2b", "#4444c8", "#f08a2a"]}, "legend": null}, "strokeDash": {"condition": [{"test": "datum.s=='D' && datum.part=='out'", "value": [8, 4, 2, 4]}, {"test": "datum.part=='out'", "value": [8, 5]}], "value": [1, 0]}, "order": {"value": null}}}
 ]},
{"width": 141, "height": 110,
 "encoding": {"x": {"field": "x", "type": "quantitative", "scale": {"domain": [500, 667.9], "nice": false, "zero": false}, "axis": null},
  "y": {"field": "y", "type": "quantitative", "scale": {"domain": [0, 1], "nice": false, "zero": false}, "axis": null}},
 "layer": [
  {"data": {"name": "L"}, "transform": [{"filter": "datum.p=='d2'"}], "mark": {"type": "line", "strokeWidth": 1.8}, "encoding": {"detail": {"field": "g"}, "stroke": {"field": "s", "type": "nominal", "scale": {"domain": ["k", "D", "A"], "range": ["#2b2b2b", "#4444c8", "#f08a2a"]}, "legend": null}, "strokeDash": {"condition": [{"test": "datum.s=='D' && datum.part=='out'", "value": [8, 4, 2, 4]}, {"test": "datum.part=='out'", "value": [8, 5]}], "value": [1, 0]}, "order": {"value": null}}}
 ]},
{"width": 206, "height": 110,
 "encoding": {"x": {"field": "x", "type": "quantitative", "scale": {"domain": [497.2, 747.8], "nice": false, "zero": false}, "axis": null},
  "y": {"field": "y", "type": "quantitative", "scale": {"domain": [0, 1], "nice": false, "zero": false}, "axis": null}},
 "layer": [
  {"data": {"name": "L"}, "transform": [{"filter": "datum.p=='e2'"}], "mark": {"type": "line", "strokeWidth": 1.8}, "encoding": {"detail": {"field": "g"}, "stroke": {"field": "s", "type": "nominal", "scale": {"domain": ["k", "D", "A"], "range": ["#2b2b2b", "#4444c8", "#f08a2a"]}, "legend": null}, "strokeDash": {"condition": [{"test": "datum.s=='D' && datum.part=='out'", "value": [8, 4, 2, 4]}, {"test": "datum.part=='out'", "value": [8, 5]}], "value": [1, 0]}, "order": {"value": null}}},
  {"data": {"name": "T"}, "transform": [{"filter": "datum.p=='e2'"}], "mark": "text", "encoding": {"text": {"field": "t"}, "fill": {"field": "c", "type": "nominal", "scale": {"domain": ["D", "A", "W", "R", "B", "P", "G"], "range": ["#1d1d8e", "#ef8526", "#222222", "#f2714d", "#1d1d9e", "#a3123f", "#111111"]}, "legend": null}}}
 ]},

{"width": 314, "height": 110,
 "encoding": {"x": {"field": "x", "type": "quantitative", "scale": {"domain": [388.75, 781.25], "nice": false, "zero": false}, "axis": null},
  "y": {"field": "y", "type": "quantitative", "scale": {"domain": [0, 1], "nice": false, "zero": false}, "axis": {"title": "R(λ)", "titleX": -6, "titleY": 39}}},
 "layer": [
  {"data": {"name": "L"}, "transform": [{"filter": "datum.p=='a3'"}], "mark": {"type": "line", "strokeWidth": 1.8}, "encoding": {"detail": {"field": "g"}, "stroke": {"field": "s", "type": "nominal", "scale": {"domain": ["k", "D", "A"], "range": ["#2b2b2b", "#4444c8", "#f08a2a"]}, "legend": null}, "strokeDash": {"condition": [{"test": "datum.s=='D' && datum.part=='out'", "value": [8, 4, 2, 4]}, {"test": "datum.part=='out'", "value": [8, 5]}], "value": [1, 0]}, "order": {"value": null}}},
  {"data": {"name": "T"}, "transform": [{"filter": "datum.p=='a3'"}], "mark": "text", "encoding": {"text": {"field": "t"}, "fill": {"field": "c", "type": "nominal", "scale": {"domain": ["D", "A", "W", "R", "B", "P", "G"], "range": ["#1d1d8e", "#ef8526", "#222222", "#f2714d", "#1d1d9e", "#a3123f", "#111111"]}, "legend": null}}}
 ]},
{"width": 314, "height": 110,
 "encoding": {"x": {"field": "x", "type": "quantitative", "scale": {"domain": [390, 781], "nice": false, "zero": false}, "axis": null},
  "y": {"field": "y", "type": "quantitative", "scale": {"domain": [0, 1], "nice": false, "zero": false}, "axis": {"title": "Φ(λ)", "titleX": -16, "titleY": 43}}},
 "layer": [
  {"data": {"name": "L"}, "transform": [{"filter": "datum.p=='b3'"}], "mark": {"type": "line", "strokeWidth": 1.8}, "encoding": {"detail": {"field": "g"}, "stroke": {"field": "s", "type": "nominal", "scale": {"domain": ["k", "D", "A"], "range": ["#2b2b2b", "#4444c8", "#f08a2a"]}, "legend": null}, "strokeDash": {"condition": [{"test": "datum.s=='D' && datum.part=='out'", "value": [8, 4, 2, 4]}, {"test": "datum.part=='out'", "value": [8, 5]}], "value": [1, 0]}, "order": {"value": null}}},
  {"data": {"name": "T"}, "transform": [{"filter": "datum.p=='b3'"}], "mark": "text", "encoding": {"text": {"field": "t"}, "fill": {"field": "c", "type": "nominal", "scale": {"domain": ["D", "A", "W", "R", "B", "P", "G"], "range": ["#1d1d8e", "#ef8526", "#222222", "#f2714d", "#1d1d9e", "#a3123f", "#111111"]}, "legend": null}}}
 ]},
{"width": 141, "height": 110,
 "encoding": {"x": {"field": "x", "type": "quantitative", "scale": {"domain": [389, 563.5], "nice": false, "zero": false}, "axis": null},
  "y": {"field": "y", "type": "quantitative", "scale": {"domain": [0, 1], "nice": false, "zero": false}, "axis": {"title": "kΦ(λ)", "titleX": -5.5, "titleY": 40}}},
 "layer": [
  {"data": {"name": "L"}, "transform": [{"filter": "datum.p=='c3'"}], "mark": {"type": "line", "strokeWidth": 1.8}, "encoding": {"detail": {"field": "g"}, "stroke": {"field": "s", "type": "nominal", "scale": {"domain": ["k", "D", "A"], "range": ["#2b2b2b", "#4444c8", "#f08a2a"]}, "legend": null}, "strokeDash": {"condition": [{"test": "datum.s=='D' && datum.part=='out'", "value": [8, 4, 2, 4]}, {"test": "datum.part=='out'", "value": [8, 5]}], "value": [1, 0]}, "order": {"value": null}}},
  {"data": {"name": "T"}, "transform": [{"filter": "datum.p=='c3'"}], "mark": "text", "encoding": {"text": {"field": "t"}, "fill": {"field": "c", "type": "nominal", "scale": {"domain": ["D", "A", "W", "R", "B", "P", "G"], "range": ["#1d1d8e", "#ef8526", "#222222", "#f2714d", "#1d1d9e", "#a3123f", "#111111"]}, "legend": null}}}
 ]},
{"width": 141, "height": 110,
 "encoding": {"x": {"field": "x", "type": "quantitative", "scale": {"domain": [500, 667.9], "nice": false, "zero": false}, "axis": null},
  "y": {"field": "y", "type": "quantitative", "scale": {"domain": [0, 1], "nice": false, "zero": false}, "axis": null}},
 "layer": [
  {"data": {"name": "L"}, "transform": [{"filter": "datum.p=='d3'"}], "mark": {"type": "line", "strokeWidth": 1.8}, "encoding": {"detail": {"field": "g"}, "stroke": {"field": "s", "type": "nominal", "scale": {"domain": ["k", "D", "A"], "range": ["#2b2b2b", "#4444c8", "#f08a2a"]}, "legend": null}, "strokeDash": {"condition": [{"test": "datum.s=='D' && datum.part=='out'", "value": [8, 4, 2, 4]}, {"test": "datum.part=='out'", "value": [8, 5]}], "value": [1, 0]}, "order": {"value": null}}}
 ]},
{"width": 206, "height": 110,
 "encoding": {"x": {"field": "x", "type": "quantitative", "scale": {"domain": [497.2, 747.8], "nice": false, "zero": false}, "axis": null},
  "y": {"field": "y", "type": "quantitative", "scale": {"domain": [0, 1], "nice": false, "zero": false}, "axis": null}},
 "layer": [
  {"data": {"name": "L"}, "transform": [{"filter": "datum.p=='e3'"}], "mark": {"type": "line", "strokeWidth": 1.8}, "encoding": {"detail": {"field": "g"}, "stroke": {"field": "s", "type": "nominal", "scale": {"domain": ["k", "D", "A"], "range": ["#2b2b2b", "#4444c8", "#f08a2a"]}, "legend": null}, "strokeDash": {"condition": [{"test": "datum.s=='D' && datum.part=='out'", "value": [10, 6]}, {"test": "datum.part=='out'", "value": [8, 5]}], "value": [1, 0]}, "order": {"value": null}}}
 ]},

{"width": 314, "height": 110,
 "encoding": {"x": {"field": "x", "type": "quantitative", "scale": {"domain": [388.75, 781.25], "nice": false, "zero": false}, "axis": {"values": [400, 500, 600, 700], "labels": true, "ticks": true, "title": "Wavelength, nm", "titleX": 166}},
  "y": {"field": "y", "type": "quantitative", "scale": {"domain": [0, 1], "nice": false, "zero": false}, "axis": {"title": "R(λ)", "titleX": -6, "titleY": 33}}},
 "layer": [
  {"data": {"name": "L"}, "transform": [{"filter": "datum.p=='a4'"}], "mark": {"type": "line", "strokeWidth": 1.8}, "encoding": {"detail": {"field": "g"}, "stroke": {"field": "s", "type": "nominal", "scale": {"domain": ["k", "D", "A"], "range": ["#2b2b2b", "#4444c8", "#f08a2a"]}, "legend": null}, "strokeDash": {"condition": [{"test": "datum.s=='D' && datum.part=='out'", "value": [8, 4, 2, 4]}, {"test": "datum.part=='out'", "value": [8, 5]}], "value": [1, 0]}, "order": {"value": null}}},
  {"data": {"name": "T"}, "transform": [{"filter": "datum.p=='a4'"}], "mark": "text", "encoding": {"text": {"field": "t"}, "fill": {"field": "c", "type": "nominal", "scale": {"domain": ["D", "A", "W", "R", "B", "P", "G"], "range": ["#1d1d8e", "#ef8526", "#222222", "#f2714d", "#1d1d9e", "#a3123f", "#111111"]}, "legend": null}}}
 ]},
{"width": 314, "height": 110,
 "encoding": {"x": {"field": "x", "type": "quantitative", "scale": {"domain": [390, 781], "nice": false, "zero": false}, "axis": {"values": [400, 500, 600, 700], "labels": true, "ticks": true, "title": "Wavelength, nm", "titleX": 171}},
  "y": {"field": "y", "type": "quantitative", "scale": {"domain": [0, 1], "nice": false, "zero": false}, "axis": {"title": "Φ(λ)", "titleX": -16, "titleY": 35}}},
 "layer": [
  {"data": {"name": "L"}, "transform": [{"filter": "datum.p=='b4'"}], "mark": {"type": "line", "strokeWidth": 1.8}, "encoding": {"detail": {"field": "g"}, "stroke": {"field": "s", "type": "nominal", "scale": {"domain": ["k", "D", "A"], "range": ["#2b2b2b", "#4444c8", "#f08a2a"]}, "legend": null}, "strokeDash": {"condition": [{"test": "datum.s=='D' && datum.part=='out'", "value": [8, 4, 2, 4]}, {"test": "datum.part=='out'", "value": [8, 5]}], "value": [1, 0]}, "order": {"value": null}}},
  {"data": {"name": "T"}, "transform": [{"filter": "datum.p=='b4'"}], "mark": "text", "encoding": {"text": {"field": "t"}, "fill": {"field": "c", "type": "nominal", "scale": {"domain": ["D", "A", "W", "R", "B", "P", "G"], "range": ["#1d1d8e", "#ef8526", "#222222", "#f2714d", "#1d1d9e", "#a3123f", "#111111"]}, "legend": null}}}
 ]},
{"width": 141, "height": 110,
 "encoding": {"x": {"field": "x", "type": "quantitative", "scale": {"domain": [389, 563.5], "nice": false, "zero": false}, "axis": {"values": [400, 500], "labels": true, "ticks": true, "title": null}},
  "y": {"field": "y", "type": "quantitative", "scale": {"domain": [0, 1], "nice": false, "zero": false}, "axis": {"title": "kΦ(λ)", "titleX": -5.5, "titleY": 33}}},
 "layer": [
  {"data": {"name": "L"}, "transform": [{"filter": "datum.p=='c4'"}], "mark": {"type": "line", "strokeWidth": 1.8}, "encoding": {"detail": {"field": "g"}, "stroke": {"field": "s", "type": "nominal", "scale": {"domain": ["k", "D", "A"], "range": ["#2b2b2b", "#4444c8", "#f08a2a"]}, "legend": null}, "strokeDash": {"condition": [{"test": "datum.s=='D' && datum.part=='out'", "value": [8, 4, 2, 4]}, {"test": "datum.part=='out'", "value": [8, 5]}], "value": [1, 0]}, "order": {"value": null}}},
  {"data": {"name": "T"}, "transform": [{"filter": "datum.p=='c4'"}], "mark": "text", "encoding": {"text": {"field": "t"}, "fill": {"field": "c", "type": "nominal", "scale": {"domain": ["D", "A", "W", "R", "B", "P", "G"], "range": ["#1d1d8e", "#ef8526", "#222222", "#f2714d", "#1d1d9e", "#a3123f", "#111111"]}, "legend": null}}}
 ]},
{"width": 141, "height": 110,
 "encoding": {"x": {"field": "x", "type": "quantitative", "scale": {"domain": [500, 667.9], "nice": false, "zero": false}, "axis": {"values": [500, 600], "labels": true, "ticks": true, "title": "Wavelength, nm", "titleX": 84}},
  "y": {"field": "y", "type": "quantitative", "scale": {"domain": [0, 1], "nice": false, "zero": false}, "axis": null}},
 "layer": [
  {"data": {"name": "L"}, "transform": [{"filter": "datum.p=='d4'"}], "mark": {"type": "line", "strokeWidth": 1.8}, "encoding": {"detail": {"field": "g"}, "stroke": {"field": "s", "type": "nominal", "scale": {"domain": ["k", "D", "A"], "range": ["#2b2b2b", "#4444c8", "#f08a2a"]}, "legend": null}, "strokeDash": {"condition": [{"test": "datum.s=='D' && datum.part=='out'", "value": [8, 4, 2, 4]}, {"test": "datum.part=='out'", "value": [8, 5]}], "value": [1, 0]}, "order": {"value": null}}}
 ]},
{"width": 206, "height": 110,
 "encoding": {"x": {"field": "x", "type": "quantitative", "scale": {"domain": [497.2, 747.8], "nice": false, "zero": false}, "axis": {"values": [500, 600, 700], "labels": true, "ticks": true, "title": null}},
  "y": {"field": "y", "type": "quantitative", "scale": {"domain": [0, 1], "nice": false, "zero": false}, "axis": null}},
 "layer": [
  {"data": {"name": "L"}, "transform": [{"filter": "datum.p=='e4'"}], "mark": {"type": "line", "strokeWidth": 1.8}, "encoding": {"detail": {"field": "g"}, "stroke": {"field": "s", "type": "nominal", "scale": {"domain": ["k", "D", "A"], "range": ["#2b2b2b", "#4444c8", "#f08a2a"]}, "legend": null}, "strokeDash": {"condition": [{"test": "datum.s=='D' && datum.part=='out'", "value": [10, 6]}, {"test": "datum.part=='out'", "value": [8, 5]}], "value": [1, 0]}, "order": {"value": null}}},
  {"data": {"name": "T"}, "transform": [{"filter": "datum.p=='e4'"}], "mark": "text", "encoding": {"text": {"field": "t"}, "fill": {"field": "c", "type": "nominal", "scale": {"domain": ["D", "A", "W", "R", "B", "P", "G"], "range": ["#1d1d8e", "#ef8526", "#222222", "#f2714d", "#1d1d9e", "#a3123f", "#111111"]}, "legend": null}}}
 ]}
]
}
